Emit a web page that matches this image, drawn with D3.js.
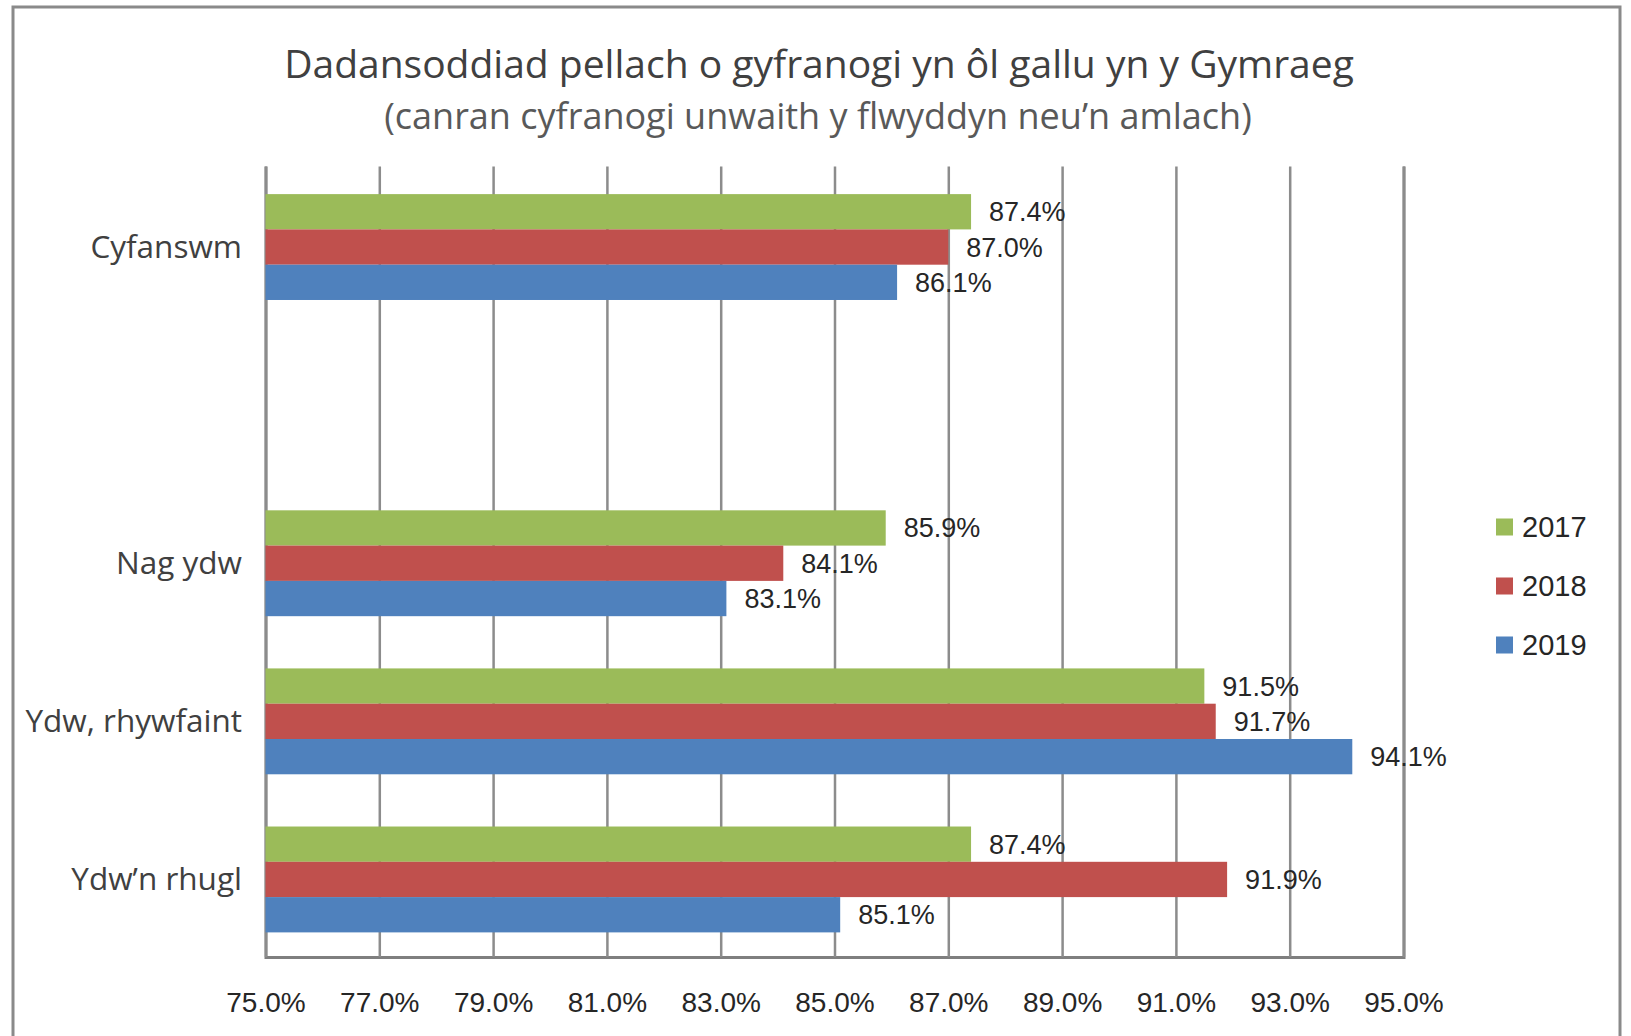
<!DOCTYPE html>
<html>
<head>
<meta charset="utf-8">
<script src="https://cdn.jsdelivr.net/npm/d3@7"></script>
<style>
  body { margin: 0; background: #fff; }
  svg { display: block; }
</style>
</head>
<body>
<div class="box"></div>
<script>
// data
const categories = ['Cyfanswm', '', 'Nag ydw', 'Ydw, rhywfaint', 'Ydw’n rhugl'];
const years = ['2017', '2018', '2019'];
const values2017 = [87.4, null, 85.9, 91.5, 87.4];
const values2018 = [87.0, null, 84.1, 91.7, 91.9];
const values2019 = [86.1, null, 83.1, 94.1, 85.1];
const xTicks = [75, 77, 79, 81, 83, 85, 87, 89, 91, 93, 95];
const colours = ['#9bbb59', '#c0504d', '#4f81bd'];

const series = [values2017, values2018, values2019];

const W = 1631, H = 1036;
const plot = {left: 265.5, right: 1403.5, top: 166.5, bottom: 957};

const svg = d3.select('.box')
    .append('svg')
    .attr('width', W)
    .attr('height', H);

svg.append('rect')
    .attr('width', W).attr('height', H)
    .attr('fill', '#fff');

// outer frame (bottom edge runs off the page)
svg.append('rect')
    .attr('x', 13).attr('y', 7)
    .attr('width', 1607).attr('height', 1100)
    .attr('fill', 'none')
    .attr('stroke', '#8a8a8a')
    .attr('stroke-width', 3);

// titles
svg.append('text')
    .attr('x', 819).attr('y', 78)
    .attr('text-anchor', 'middle')
    .attr('font-family', '"Open Sans", sans-serif')
    .attr('font-size', 39)
    .attr('font-weight', 500)
    .attr('fill', '#404040')
    .text('Dadansoddiad pellach o gyfranogi yn ôl gallu yn y Gymraeg');

svg.append('text')
    .attr('x', 818).attr('y', 129)
    .attr('text-anchor', 'middle')
    .attr('font-family', '"Open Sans", sans-serif')
    .attr('font-size', 36)
    .attr('fill', '#595959')
    .text('(canran cyfranogi unwaith y flwyddyn neu’n amlach)');

const x = d3.scaleLinear()
    .domain([75, 95])
    .range([plot.left, plot.right]);

const y = d3.scaleBand()
    .domain(categories)
    .range([plot.top + 1.5, plot.bottom + 1.5]);

const ySub = d3.scaleBand()
    .domain(years)
    .range([0, y.bandwidth()])
    .paddingInner(0)
    .paddingOuter(0.74);

// x axis with full height gridlines
const xAxis = d3.axisBottom(x)
    .tickValues(xTicks)
    .tickSize(-(plot.bottom - plot.top))
    .tickPadding(35)
    .tickFormat(d => d3.format('.1f')(d) + '%');

const gx = svg.append('g')
    .attr('transform', `translate(0,${plot.bottom})`)
    .call(xAxis);
gx.select('.domain')
    .attr('stroke', '#7f7f7f')
    .attr('stroke-width', 3);
gx.selectAll('.tick line')
    .attr('stroke', '#8c8c8c')
    .attr('stroke-width', 2.5);
gx.selectAll('.tick text')
    .attr('font-family', '"Liberation Sans", Arial, sans-serif')
    .attr('font-size', 28)
    .attr('fill', '#262626');

// bars
const rows = [];
categories.forEach((c, i) => {
    years.forEach((yr, j) => {
        if (series[j][i] != null) rows.push({cat: c, year: yr, value: series[j][i], k: j});
    });
});

svg.append('g').selectAll('rect')
    .data(rows)
    .enter()
    .append('rect')
    .attr('x', x(75))
    .attr('y', d => y(d.cat) + ySub(d.year))
    .attr('width', d => x(d.value) - x(75))
    .attr('height', ySub.bandwidth())
    .attr('fill', d => colours[d.k]);

svg.append('g').selectAll('text')
    .data(rows)
    .enter()
    .append('text')
    .attr('x', d => x(d.value) + 18)
    .attr('y', d => y(d.cat) + ySub(d.year) + ySub.bandwidth() / 2)
    .attr('dy', '0.35em')
    .attr('font-family', '"Liberation Sans", Arial, sans-serif')
    .attr('font-size', 27)
    .attr('fill', '#262626')
    .text(d => d3.format('.1f')(d.value) + '%');

// category labels
const yAxis = d3.axisLeft(y)
    .tickSize(0)
    .tickPadding(plot.left - 242);
const gy = svg.append('g')
    .attr('transform', `translate(${plot.left},0)`)
    .call(yAxis);
gy.select('.domain').remove();
gy.selectAll('.tick text')
    .attr('dy', '0.35em')
    .attr('font-family', '"Open Sans", sans-serif')
    .attr('font-size', 31.5)
    .attr('fill', '#404040');

// legend
const legend = svg.append('g')
    .attr('transform', 'translate(1496,527)');
const items = legend.selectAll('g')
    .data(years)
    .enter()
    .append('g')
    .attr('transform', (d, i) => `translate(0,${i * 59})`);
items.append('rect')
    .attr('x', 0).attr('y', -8.5)
    .attr('width', 17).attr('height', 17)
    .attr('fill', (d, i) => colours[i]);
items.append('text')
    .attr('x', 26)
    .attr('dy', '0.36em')
    .attr('font-family', '"Liberation Sans", Arial, sans-serif')
    .attr('font-size', 29)
    .attr('fill', '#262626')
    .text(d => d);
</script>
</body>
</html>
